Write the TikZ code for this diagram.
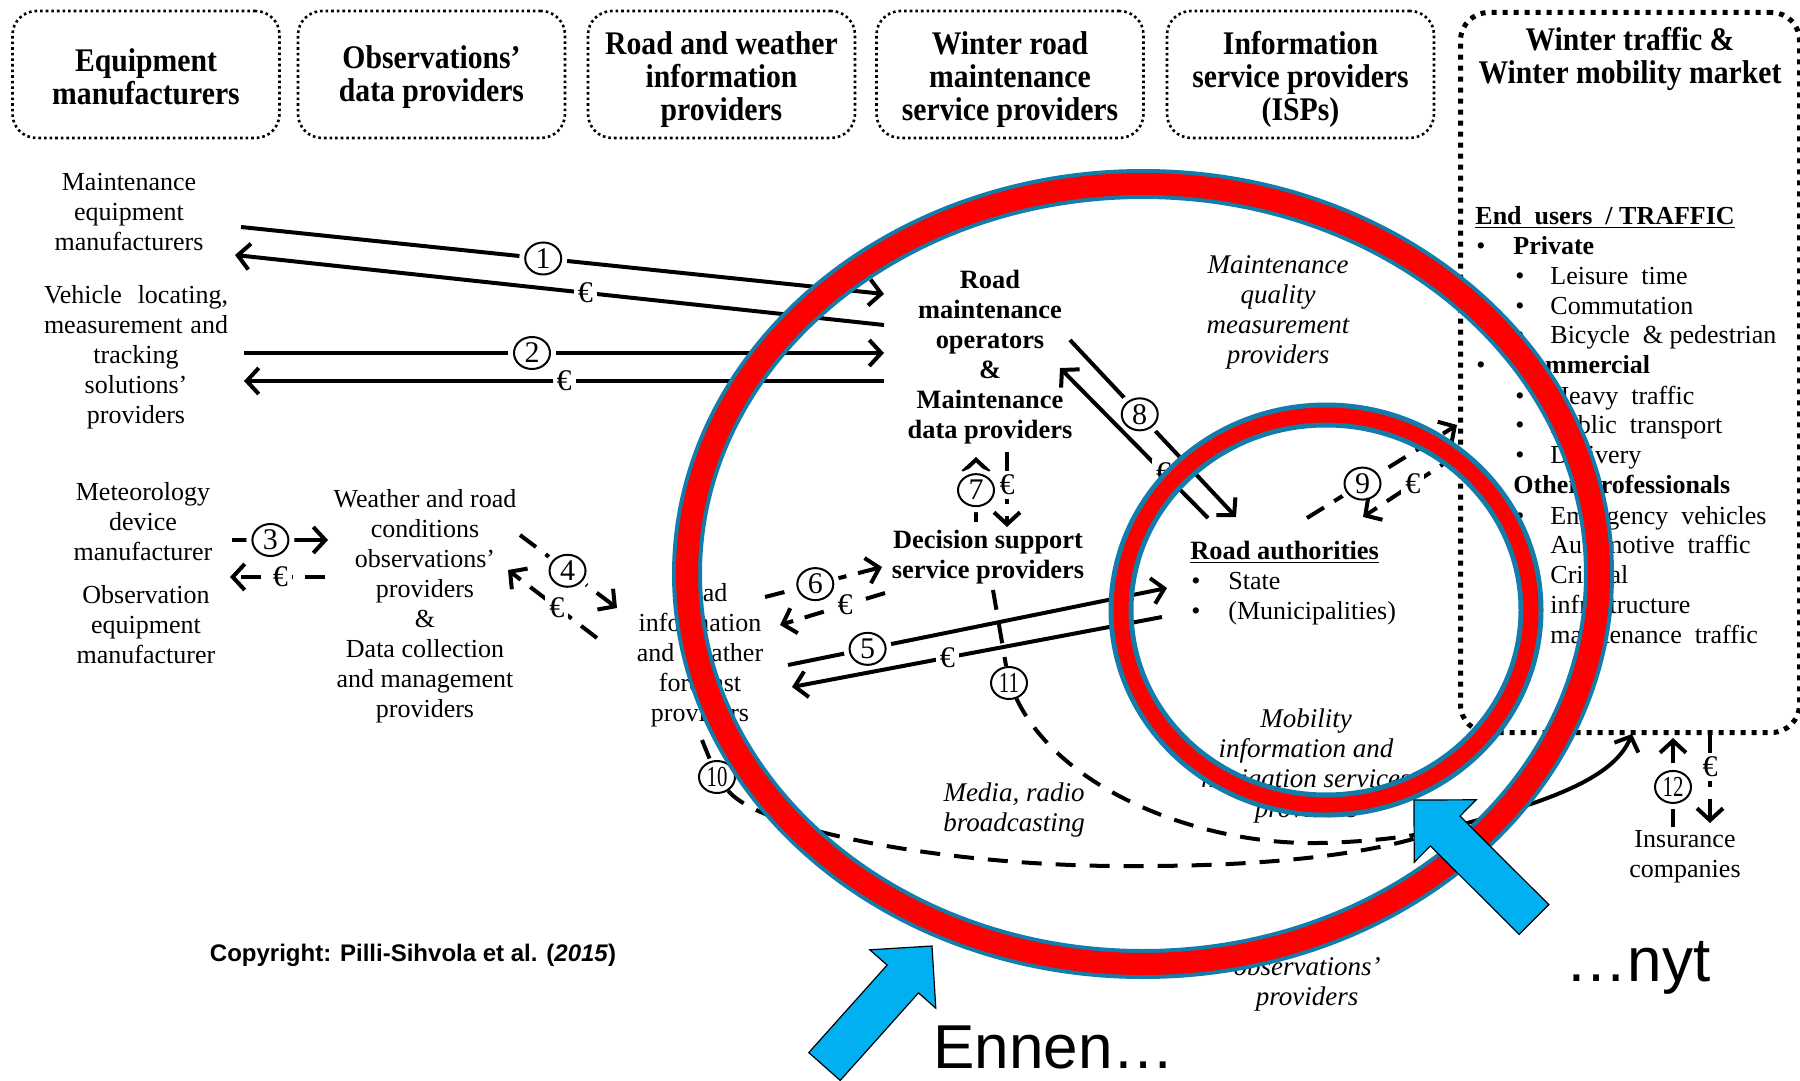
\documentclass[tikz,border=0pt]{standalone}
\usepackage{fontspec}
\setmainfont{Liberation Serif}
\newfontfamily\titlefont[FakeStretch=0.9]{Liberation Serif}
\newfontfamily\condfont[FakeStretch=0.72]{Liberation Serif}
\newfontfamily\arialfont{Liberation Sans}
\usetikzlibrary{arrows.meta,shapes.geometric}
\definecolor{ringred}{RGB}{255,0,0}
\definecolor{ringteal}{RGB}{18,124,170}
\definecolor{arrowblue}{RGB}{0,176,240}
\tikzset{
 topbox/.style={draw, rounded corners=12pt, line width=1.3pt, dash pattern=on 1.3pt off 1.5pt, minimum width=133.5pt, minimum height=63.5pt, inner sep=0pt},
 mktbox/.style={draw, rounded corners=14pt, line width=2.5pt, dash pattern=on 2.5pt off 3pt, minimum width=169.5pt, minimum height=360pt, inner sep=0pt},
 ttl/.style={align=center, inner sep=0pt, font=\titlefont\bfseries\fontsize{16.5}{16.5}\selectfont},
 txt/.style={align=center, inner sep=0pt, font=\fontsize{13}{15}\selectfont},
 btxt/.style={align=center, inner sep=0pt, font=\bfseries\fontsize{13.2}{15}\selectfont},
 itxt/.style={align=center, inner sep=0pt, font=\itshape\fontsize{13.5}{15}\selectfont},
 li/.style={anchor=base west, inner sep=0pt, font=\fontsize{13}{15}\selectfont},
 bul/.style={anchor=base, inner sep=0pt, font=\fontsize{13}{15}\selectfont},
 flow/.style={line width=2pt, -{Straight Barb[length=6pt,width=13pt]}},
 dflow/.style={flow, dash pattern=on 10pt off 6pt},
 dcurve/.style={line width=2pt, dash pattern=on 10pt off 7pt},
 num/.style={solid, ellipse, draw, line width=1pt, fill=white, preaction={draw=white, line width=6pt}, minimum width=18pt, minimum height=16pt, inner sep=0pt, font=\fontsize{15}{15}\selectfont},
 dnum/.style={num, font=\condfont\fontsize{14.5}{14.5}\selectfont},
 eur/.style={solid, fill=white, inner sep=2pt, font=\fontsize{15}{15}\selectfont},
 bluearrow/.style={fill=arrowblue, draw=black, line width=0.6pt, line join=miter}
}
\begin{document}
\begin{tikzpicture}[x=0.5pt,y=-0.5pt]
\useasboundingbox (0,0) rectangle (1800,1081);
\fill[white] (0,0) rectangle (1800,1081);

% top category boxes
\node[topbox] (b1) at (146,74.5) {};
\node[topbox] (b2) at (431.5,74.5) {};
\node[topbox] (b3) at (721.5,74.5) {};
\node[topbox] (b4) at (1010,74.5) {};
\node[topbox] (b5) at (1300.5,74.5) {};
\node[mktbox, anchor=north west] (b6) at (1458,10) {};
\node[ttl] (b1t) at (b1.center) [yshift=-1.2pt] {Equipment\\manufacturers};
\node[ttl] (b2t) at (b2.center) [yshift=-1.2pt] {Observations’\\data providers};
\node[ttl] (b3t) at (b3.center) [yshift=-2.3pt] {Road and weather\\information\\providers};
\node[ttl] (b4t) at (b4.center) [yshift=-2.3pt] {Winter road\\maintenance\\service providers};
\node[ttl] (b5t) at (b5.center) [yshift=-2.3pt] {Information\\service providers\\(ISPs)};
\node[ttl] (b6t) at (1630,59) {Winter traffic \&\\Winter mobility market};

% actors
\node[txt] (mem) at (129,212) {Maintenance\\equipment\\manufacturers};
\node[txt] (vlt) at (136,357) {\makebox[92pt][s]{Vehicle locating,}\\\makebox[92pt][s]{measurement and}\\tracking\\solutions’\\providers};
\node[txt] (mdm) at (143,522) {Meteorology\\device\\manufacturer};
\node[txt] (oem) at (146,625) {Observation\\equipment\\manufacturer};
\node[txt] (wrc) at (425,606) {Weather and road\\conditions\\observations’\\providers\\\&\\Data collection\\and management\\providers};
\node[txt] (rif) at (700,655) {Road\\information\\and weather\\forecast\\providers};
\node[btxt] (rmo) at (990,357) {Road\\maintenance\\operators\\\&\\Maintenance\\data providers};
\node[btxt] (dss) at (988,557) {Decision support\\service providers};
\node[itxt] (mqm) at (1278,312) {Maintenance\\quality\\measurement\\providers};
\node[itxt] (mob) at (1306,766) {Mobility\\information and\\navigation services\\providers};
\node[itxt] (med) at (1014,810) {Media, radio\\broadcasting};
\node[itxt] (obs) at (1307,984) {observations’\\providers};
\node[txt] (ins) at (1685,857) {Insurance\\companies};

% road authorities
\node[li, font=\bfseries\fontsize{13.2}{15}\selectfont] (ra) at (1190,559) {\underline{Road authorities}};
\node[bul] (rab1) at (1196,589) {•};
\node[li] (ras) at (1228,589) {State};
\node[bul] (rab2) at (1196,619) {•};
\node[li] (ram) at (1228,619) {(Municipalities)};

% end users list
\node[li, font=\bfseries\fontsize{13}{15}\selectfont] (eu) at (1475,224) {\underline{End\enspace users\enspace / TRAFFIC}};
\node[bul] (u1) at (1481,254) {•};
\node[li, font=\bfseries\fontsize{13}{15}\selectfont] (e1) at (1513,254) {Private};
\node[bul] (u2) at (1520,284) {•};
\node[li] (e2) at (1550,284) {Leisure\enspace time};
\node[bul] (u3) at (1520,314) {•};
\node[li] (e3) at (1550,314) {Commutation};
\node[bul] (u4) at (1520,343) {•};
\node[li] (e4) at (1550,343) {Bicycle\enspace\& pedestrian};
\node[bul] (u5) at (1481,373) {•};
\node[li, font=\bfseries\fontsize{13}{15}\selectfont] (e5) at (1513,373) {Commercial};
\node[bul] (u6) at (1520,404) {•};
\node[li] (e6) at (1550,404) {Heavy\enspace traffic};
\node[bul] (u7) at (1520,433) {•};
\node[li] (e7) at (1550,433) {Public\enspace transport};
\node[bul] (u8) at (1520,463) {•};
\node[li] (e8) at (1550,463) {Delivery};
\node[bul] (u9) at (1481,493) {•};
\node[li, font=\bfseries\fontsize{13}{15}\selectfont] (e9) at (1513,493) {Other professionals};
\node[bul] (u10) at (1520,524) {•};
\node[li] (e10) at (1550,524) {Emergency\enspace vehicles};
\node[bul] (u11) at (1520,553) {•};
\node[li] (e11) at (1550,553) {Automotive\enspace traffic};
\node[bul] (u12) at (1520,583) {•};
\node[li] (e12) at (1550,583) {Critical};
\node[li] (e13) at (1550,613) {infrastructure};
\node[li] (e14) at (1550,643) {maintenance\enspace traffic};

% connector end points
\coordinate (a1s) at (241,227);  \coordinate (a1e) at (884,294);
\coordinate (a1bs) at (884,325); \coordinate (a1be) at (235,255);
\coordinate (a2s) at (244,353);  \coordinate (a2e) at (884,353);
\coordinate (a2bs) at (884,381); \coordinate (a2be) at (244,381);
\coordinate (a3s) at (232,540);  \coordinate (a3e) at (328,540);
\coordinate (a3bs) at (325,577); \coordinate (a3be) at (230,577);
\coordinate (a4s) at (520,535);  \coordinate (a4e) at (617,608);
\coordinate (a4bs) at (597,638); \coordinate (a4be) at (508,570);
\coordinate (a5s) at (788,665);  \coordinate (a5e) at (1167,588);
\coordinate (a5bs) at (1162,617);\coordinate (a5be) at (792,687);
\coordinate (a6s) at (765,597);  \coordinate (a6e) at (882,567);
\coordinate (a6bs) at (885,593); \coordinate (a6be) at (780,625);
\coordinate (a7s) at (976,522);  \coordinate (a7e) at (976,457);
\coordinate (a7bs) at (1007,452);\coordinate (a7be) at (1007,527);
\coordinate (a8s) at (1070,340); \coordinate (a8e) at (1236,517);
\coordinate (a8bs) at (1208,518);\coordinate (a8be) at (1060,368);
\coordinate (a9s) at (1307,518); \coordinate (a9e) at (1457,425);
\coordinate (a9bs) at (1457,455);\coordinate (a9be) at (1363,517);
\coordinate (a10s) at (702,740);
\coordinate (a11s) at (993,590);
\coordinate (jn) at (1440,830);
\coordinate (mkt) at (1632,734);
\coordinate (a12s) at (1673,827); \coordinate (a12e) at (1673,738);
\coordinate (a12bs) at (1710,735);\coordinate (a12be) at (1710,823);

% flows
\draw[flow] (a1s) -- node[num,pos=0.47]{1} (a1e);
\draw[flow] (a1bs) -- node[eur,pos=0.46]{€} (a1be);
\draw[flow] (a2s) -- node[num,pos=0.45]{2} (a2e);
\draw[flow] (a2bs) -- node[eur,pos=0.5]{€} (a2be);
\draw[flow] (a3s) -- node[num,pos=0.40]{3} (a3e);
\draw[dflow] (a3bs) -- node[eur,pos=0.47]{€} (a3be);
\draw[dflow] (a4s) -- node[num,pos=0.49]{4} (a4e);
\draw[dflow] (a4bs) -- node[eur,pos=0.45]{€} (a4be);
\draw[flow] (a5s) -- node[num,pos=0.21]{5} (a5e);
\draw[flow] (a5bs) -- node[eur,pos=0.58]{€} (a5be);
\draw[dflow] (a6s) -- node[num,pos=0.43]{6} (a6e);
\draw[dflow] (a6bs) -- node[eur,pos=0.38]{€} (a6be);
\draw[dflow] (a7s) -- node[num,pos=0.49]{7} (a7e);
\draw[dflow] (a7bs) -- node[eur,pos=0.44]{€} (a7be);
\draw[flow] (a8s) -- node[num,pos=0.42]{8} (a8e);
\draw[flow] (a8bs) -- node[eur,pos=0.30]{€} (a8be);
\draw[dflow] (a9s) -- node[num,pos=0.37]{9} (a9e);
\draw[dflow] (a9bs) -- node[eur,pos=0.47]{€} (a9be);
\draw[dflow] (a12s) -- node[dnum,pos=0.45]{12} (a12e);
\draw[dflow] (a12bs) -- node[eur,pos=0.36]{€} (a12be);

\node[dnum] (n10) at (717,777) {10};
\node[dnum] (n11) at (1009,683) {11};
\draw[dcurve] (a10s) -- (n10);
\draw[dcurve] (n10) .. controls (760,830) and (950,868) .. (1142,866) .. controls (1290,866) and (1390,850) .. (jn);
\draw[dcurve] (a11s) -- (n11);
\draw[dcurve] (n11) .. controls (1060,790) and (1200,845) .. (1318,843) .. controls (1370,842) and (1415,836) .. (jn);
\draw[flow] (jn) .. controls (1560,800) and (1615,775) .. (mkt);

% rings
\draw[ringteal, line width=12.5pt] (1326,610) ellipse [x radius=102.5pt, y radius=97.5pt];
\draw[ringred, line width=7.5pt] (1326,610) ellipse [x radius=102.5pt, y radius=97.5pt];
\draw[ringteal, line width=15pt] (1143,574) ellipse [x radius=228pt, y radius=195pt];
\draw[ringred, line width=11pt] (1143,574) ellipse [x radius=228pt, y radius=195pt];

% blue block arrows
\draw[bluearrow] (840.2,1080.4) -- (918.5,992.9) -- (935.8,1008.2) -- (932,946) -- (869.8,949.8) -- (887.1,965.1) -- (808.8,1052.6) -- cycle;
\draw[bluearrow] (1548.8,904.6) -- (1460,816.1) -- (1476.2,799.8) -- (1414,800) -- (1414.2,862.2) -- (1430.4,845.9) -- (1519.2,934.4) -- cycle;

\node[anchor=base, inner sep=0pt, font=\arialfont\fontsize{31}{31}\selectfont] (ennen) at (1054,1068) {Ennen…};
\node[anchor=base, inner sep=0pt, font=\arialfont\fontsize{31}{31}\selectfont] (nyt) at (1638,981) {…nyt};
\node[inner sep=0pt, font=\arialfont\bfseries\fontsize{12}{12}\selectfont] (copy) at (413,955) {Copyright: Pilli-Sihvola et al. (\textit{2015})};
\end{tikzpicture}
\end{document}
